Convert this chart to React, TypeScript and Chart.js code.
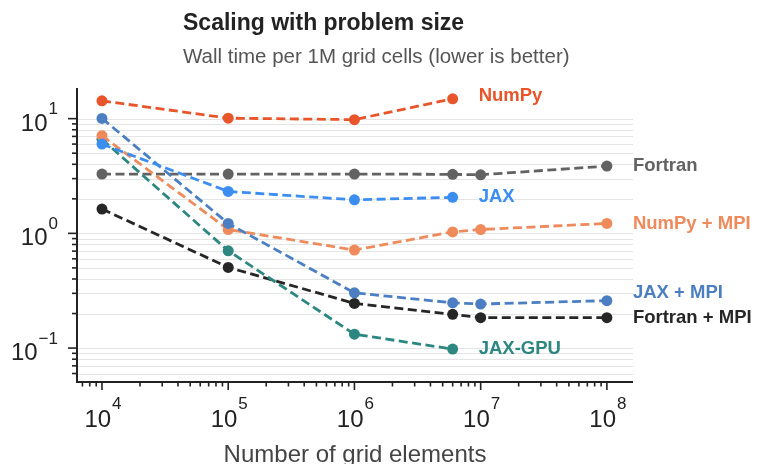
import { useEffect, useRef } from 'react';
import { Chart, registerables } from 'chart.js';

Chart.register(...registerables);

// Problem sizes (number of grid elements) at which each code was timed
const gridSizes = [1e4, 1e5, 1e6, 6e6, 1e7, 1e8];

// Wall time per 1M grid cells, one array per implementation
const numpyTimes = [14.3, 10.1, 9.8, 14.9];
const numpyMpiTimes = [7.1, 1.08, 0.715, 1.03, 1.08, 1.22];
const jaxTimes = [6.0, 2.32, 1.96, 2.06];
const jaxMpiTimes = [10.05, 1.22, 0.303, 0.248, 0.242, 0.259];
const jaxGpuTimes = [6.6, 0.705, 0.132, 0.098];
const fortranTimes = [3.29, 3.29, 3.29, 3.27, 3.24, 3.86];
const fortranMpiTimes = [1.63, 0.505, 0.245, 0.197, 0.184, 0.184];

// Decade exponents that get a labelled tick
const xTickExponents = [4, 5, 6, 7, 8];
const yTickExponents = [-1, 0, 1];

const FONT = '"Liberation Sans", Arial, Helvetica, sans-serif';

type Series = { name: string; values: number[]; color: string; labelDy: number };

// Listed top-most first: Chart.js paints dataset 0 last.
const series: Series[] = [
  { name: 'JAX', values: jaxTimes, color: '#3b8ef0', labelDy: -1.5 },
  { name: 'JAX + MPI', values: jaxMpiTimes, color: '#4b7fc2', labelDy: -9.5 },
  { name: 'NumPy + MPI', values: numpyMpiTimes, color: '#ee8a5b', labelDy: -1.5 },
  { name: 'JAX-GPU', values: jaxGpuTimes, color: '#2b8780', labelDy: -1.5 },
  { name: 'NumPy', values: numpyTimes, color: '#e8552b', labelDy: -4.5 },
  { name: 'Fortran + MPI', values: fortranMpiTimes, color: '#262626', labelDy: -1.5 },
  { name: 'Fortran', values: fortranTimes, color: '#626262', labelDy: -1.5 },
];

function logValuesInRange(min: number, max: number, minorOnly: boolean): number[] {
  const out: number[] = [];
  for (let e = Math.floor(Math.log10(min)); e <= Math.ceil(Math.log10(max)); e++) {
    for (let m = 1; m <= 9; m++) {
      if (minorOnly && m === 1) continue;
      const v = m * Math.pow(10, e);
      if (v >= min && v <= max) out.push(v);
    }
  }
  return out;
}

function drawPower(
  ctx: CanvasRenderingContext2D,
  exp: number,
  x: number,
  baseY: number,
  supY: number,
  align: 'center' | 'right'
) {
  const base = '10';
  const sup = exp < 0 ? '\u2212' + Math.abs(exp) : String(exp);
  ctx.font = `24px ${FONT}`;
  const wb = ctx.measureText(base).width;
  ctx.font = `17px ${FONT}`;
  const ws = ctx.measureText(sup).width;
  const gap = 1;
  const total = wb + gap + ws;
  const left = align === 'center' ? x - total / 2 : x - total;
  ctx.textAlign = 'left';
  ctx.textBaseline = 'alphabetic';
  ctx.font = `24px ${FONT}`;
  ctx.fillText(base, left, baseY);
  ctx.font = `17px ${FONT}`;
  ctx.fillText(sup, left + wb + gap, supY);
}

const logAxesPlugin = {
  id: 'logAxes',
  beforeDatasetsDraw(chart: any) {
    const { ctx, chartArea } = chart;
    const y = chart.scales.y;
    ctx.save();
    ctx.strokeStyle = '#e4e4e4';
    ctx.lineWidth = 1;
    for (const v of logValuesInRange(y.min, y.max, false)) {
      const py = Math.round(y.getPixelForValue(v)) + 0.5;
      ctx.beginPath();
      ctx.moveTo(chartArea.left, py);
      ctx.lineTo(chartArea.right, py);
      ctx.stroke();
    }
    ctx.restore();
  },
  afterDatasetsDraw(chart: any) {
    const { ctx, chartArea } = chart;
    const xs = chart.scales.x;
    const ys = chart.scales.y;
    const { left, right, top, bottom } = chartArea;
    ctx.save();

    // spines
    ctx.strokeStyle = '#222';
    ctx.lineWidth = 2;
    ctx.beginPath();
    ctx.moveTo(left, top);
    ctx.lineTo(left, bottom);
    ctx.lineTo(right, bottom);
    ctx.stroke();

    // tick marks
    ctx.lineWidth = 1.6;
    for (const v of logValuesInRange(ys.min, ys.max, true)) {
      const py = ys.getPixelForValue(v);
      ctx.beginPath();
      ctx.moveTo(left - 5, py);
      ctx.lineTo(left, py);
      ctx.stroke();
    }
    for (const e of yTickExponents) {
      const py = ys.getPixelForValue(Math.pow(10, e));
      ctx.beginPath();
      ctx.moveTo(left - 9, py);
      ctx.lineTo(left, py);
      ctx.stroke();
    }
    for (const v of logValuesInRange(xs.min, xs.max, true)) {
      const px = xs.getPixelForValue(v);
      ctx.beginPath();
      ctx.moveTo(px, bottom);
      ctx.lineTo(px, bottom + 4.5);
      ctx.stroke();
    }
    for (const e of xTickExponents) {
      const px = xs.getPixelForValue(Math.pow(10, e));
      ctx.beginPath();
      ctx.moveTo(px, bottom);
      ctx.lineTo(px, bottom + 8);
      ctx.stroke();
    }

    // tick labels
    ctx.fillStyle = '#222';
    for (const e of yTickExponents) {
      const py = ys.getPixelForValue(Math.pow(10, e));
      drawPower(ctx, e, left - 19, py + 12, py - 4.5, 'right');
    }
    for (const e of xTickExponents) {
      const px = xs.getPixelForValue(Math.pow(10, e));
      drawPower(ctx, e, px + 1, bottom + 44.5, bottom + 27, 'center');
    }

    // axis title
    ctx.fillStyle = '#444';
    ctx.font = `24px ${FONT}`;
    ctx.textAlign = 'center';
    ctx.fillText('Number of grid elements', (left + right) / 2, 462);

    // series names beside the last point of each line
    ctx.font = `bold 18.5px ${FONT}`;
    ctx.textAlign = 'left';
    chart.data.datasets.forEach((ds: any, i: number) => {
      const meta = chart.getDatasetMeta(i);
      const last = meta.data[meta.data.length - 1];
      ctx.fillStyle = ds.borderColor;
      ctx.fillText(ds.label, last.x + 26, last.y + ds.labelDy + 6.6);
    });

    // heading
    ctx.fillStyle = '#222';
    ctx.font = `bold 23px ${FONT}`;
    ctx.fillText('Scaling with problem size', 183, 30);
    ctx.fillStyle = '#555';
    ctx.font = `20.5px ${FONT}`;
    ctx.fillText('Wall time per 1M grid cells (lower is better)', 183, 63);

    ctx.restore();
  },
};

export default function App() {
  const canvasRef = useRef<HTMLCanvasElement>(null);

  useEffect(() => {
    const canvas = canvasRef.current;
    if (!canvas) return;
    const chart = new Chart(canvas, {
      type: 'line',
      data: {
        datasets: series.map((s) => ({
          label: s.name,
          labelDy: s.labelDy,
          data: s.values.map((v, i) => ({ x: gridSizes[i], y: v })),
          borderColor: s.color,
          backgroundColor: s.color,
          pointBackgroundColor: s.color,
          pointBorderWidth: 0,
          pointRadius: 5.5,
          borderWidth: 2.8,
          borderDash: [9, 4.5],
          tension: 0,
          fill: false,
        })) as any,
      },
      options: {
        animation: false,
        responsive: false,
        devicePixelRatio: 1,
        layout: { padding: { left: 77, right: 127, top: 88, bottom: 82 } },
        scales: {
          x: { type: 'logarithmic', min: 6.34e3, max: 1.61e8, display: false },
          y: { type: 'logarithmic', min: 0.0506, max: 18.5, display: false },
        },
        plugins: {
          legend: { display: false },
          tooltip: { enabled: false },
        },
      },
      plugins: [logAxesPlugin],
    });
    return () => chart.destroy();
  }, []);

  return (
    <div style={{ position: 'fixed', left: 0, top: 0, width: 760, height: 464, background: '#fff' }}>
      <canvas ref={canvasRef} width={760} height={464} style={{ display: 'block', width: 760, height: 464 }} />
    </div>
  );
}
